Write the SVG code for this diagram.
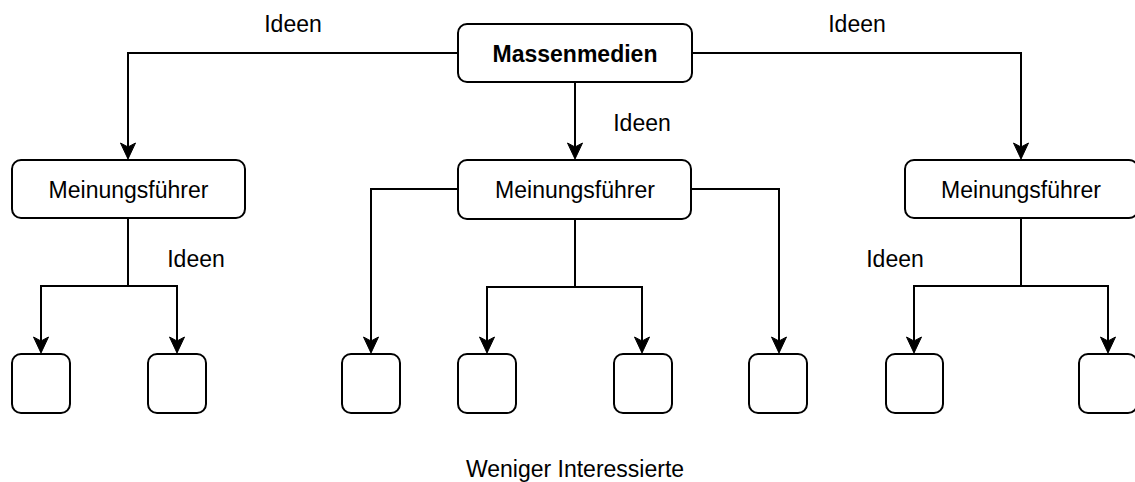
<svg xmlns="http://www.w3.org/2000/svg" width="1135" height="482" viewBox="0 0 1135 482">
<style>
.box{fill:#fff;stroke:#000;stroke-width:2}
.t{font-family:"Liberation Sans",Arial,sans-serif;font-size:23px;fill:#000;text-anchor:middle}
.b{font-weight:bold}
.c{fill:none;stroke:#000;stroke-width:2}
</style>
<defs>
<marker id="arr" viewBox="-17 -8 18 16" refX="0" refY="0" markerWidth="18" markerHeight="16" markerUnits="userSpaceOnUse" orient="auto">
<path d="M1,0 L-15,-7.5 L-11,0 L-15,7.5 Z" fill="#000" stroke="#000" stroke-width="1"/>
</marker>
</defs>
<rect width="1135" height="482" fill="#fff"/>
<g id="connectors">
<path class="c" d="M458,53 H128 V158" marker-end="url(#arr)"/>
<path class="c" d="M692,53 H1021 V158" marker-end="url(#arr)"/>
<path class="c" d="M575,82 V158" marker-end="url(#arr)"/>
<path class="c" d="M128,218 V286 H41 V352" marker-end="url(#arr)"/>
<path class="c" d="M128,286 H177 V352" marker-end="url(#arr)"/>
<path class="c" d="M458,189 H371 V352" marker-end="url(#arr)"/>
<path class="c" d="M691,189 H779 V352" marker-end="url(#arr)"/>
<path class="c" d="M575,219 V287 H487 V352" marker-end="url(#arr)"/>
<path class="c" d="M575,287 H642 V352" marker-end="url(#arr)"/>
<path class="c" d="M1021,218 V286 H914 V352" marker-end="url(#arr)"/>
<path class="c" d="M1021,286 H1108 V352" marker-end="url(#arr)"/>
<text class="t" x="293" y="32">Ideen</text>
<text class="t" x="857" y="32">Ideen</text>
<text class="t" x="642" y="131">Ideen</text>
<text class="t" x="196" y="267">Ideen</text>
<text class="t" x="895" y="267">Ideen</text>
</g>
<g id="massenmedien"><rect class="box" x="458" y="24" width="234" height="58" rx="9"/><text class="t b" x="575" y="62">Massenmedien</text></g>
<g id="mf-left"><rect class="box" x="12" y="160" width="233" height="58" rx="9"/><text class="t" x="128.5" y="198">Meinungsführer</text></g>
<g id="mf-center"><rect class="box" x="458" y="160" width="233" height="59" rx="9"/><text class="t" x="575" y="198">Meinungsführer</text></g>
<g id="mf-right"><rect class="box" x="905" y="160" width="233" height="58" rx="9"/><text class="t" x="1021" y="198">Meinungsführer</text></g>
<g id="p1"><rect class="box" x="12" y="354" width="58" height="59" rx="9"/></g>
<g id="p2"><rect class="box" x="148" y="354" width="58" height="59" rx="9"/></g>
<g id="p3"><rect class="box" x="342" y="354" width="58" height="59" rx="9"/></g>
<g id="p4"><rect class="box" x="458" y="354" width="58" height="59" rx="9"/></g>
<g id="p5"><rect class="box" x="614" y="354" width="58" height="59" rx="9"/></g>
<g id="p6"><rect class="box" x="749" y="354" width="58" height="59" rx="9"/></g>
<g id="p7"><rect class="box" x="886" y="354" width="57" height="59" rx="9"/></g>
<g id="p8"><rect class="box" x="1079" y="354" width="58" height="59" rx="9"/></g>
<g id="label-bottom"><text class="t" x="575" y="477">Weniger Interessierte</text></g>
</svg>
